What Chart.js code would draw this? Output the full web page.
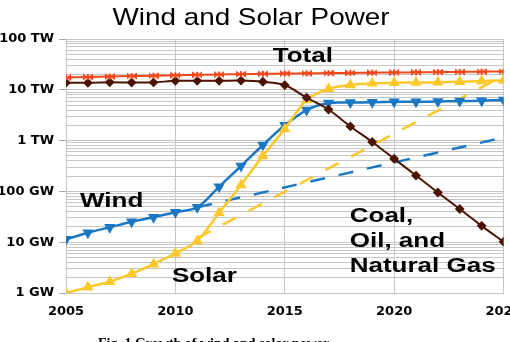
<!DOCTYPE html>
<html>
<head>
<meta charset="utf-8">
<script src="https://cdn.jsdelivr.net/npm/chart.js@4.4.1/dist/chart.umd.min.js"></script>
<style>
  html, body { margin: 0; padding: 0; background: #fff; overflow: hidden; }
  #wrap { position: relative; width: 510px; height: 342px; overflow: hidden; }
  #caption {
    position: absolute; left: 98px; top: 337px;
    font: bold 14px "Liberation Serif", "Times New Roman", serif;
    line-height: 14px; white-space: nowrap; color: #000;
  }
</style>
</head>
<body>
<div id="wrap">
  <canvas id="powerCanvas" width="510" height="342"></canvas>
  <div id="caption">Fig. 1 Growth of wind and solar power</div>
</div>
<script>
// values in GW
var years = [2005, 2006, 2007, 2008, 2009, 2010, 2011, 2012, 2013, 2014, 2015,
             2016, 2017, 2018, 2019, 2020, 2021, 2022, 2023, 2024, 2025];
var total = [17500, 17800, 18200, 18600, 18900, 19300, 19700, 20000, 20300, 20600, 20900,
             21100, 21300, 21500, 21700, 21900, 22100, 22300, 22500, 22700, 22900];
var fossil = [13800, 13700, 14100, 13900, 14000, 15000, 15000, 15000, 15200, 14400, 12400,
              7000, 4100, 1900, 940, 440, 205, 95, 45, 21, 10.2];
var wind = [11.4, 15.4, 19.6, 25.3, 31, 39, 48.6, 124, 316, 819, 2000,
            4000, 5500, 5600, 5700, 5800, 5800, 5900, 6000, 6100, 6300];
var solar = [1.0, 1.3, 1.67, 2.4, 3.7, 6.0, 10.6, 38, 134, 500, 1700,
             6300, 10500, 12400, 13400, 13800, 13900, 14100, 14400, 14900, 15200];

// dashed trend lines
var windTrendYears = [2011, 2025];
var windTrend = [48.6, 1150];
var solarTrendYears = [2011, 2025];
var solarTrend = [12, 19000];

var yTickValues = [1, 10, 100, 1000, 10000, 100000];
var yTickLabels = ["1 GW", "10 GW", "100 GW", "1 TW", "10 TW", "100 TW"];
var xTickStep = 5;

function points(xs, ys) {
  return xs.map(function (x, i) { return { x: x, y: ys[i] }; });
}

function bowtie(color) {
  var c = document.createElement("canvas");
  c.width = 10; c.height = 8;
  var g = c.getContext("2d");
  g.fillStyle = color;
  g.beginPath(); g.moveTo(0, 0.5); g.lineTo(5, 4); g.lineTo(0, 7.5); g.closePath(); g.fill();
  g.beginPath(); g.moveTo(10, 0.5); g.lineTo(5, 4); g.lineTo(10, 7.5); g.closePath(); g.fill();
  g.fillRect(4, 1, 2, 6);
  return c;
}

var gridColor = "#c6c6c6";
var tickFont = { family: "DejaVu Sans", size: 13, weight: "bold" };

// title and in-plot labels, stretched a bit wide like the original
var textPlugin = {
  id: "chartText",
  afterDatasetsDraw: function (chart) {
    var ctx = chart.ctx;
    var xs = chart.scales.x, ys = chart.scales.y;
    function put(text, px, py, font, sx, align) {
      ctx.save();
      ctx.translate(px, py);
      ctx.scale(sx, 1);
      ctx.font = font;
      ctx.fillStyle = "#000";
      ctx.textAlign = align || "left";
      ctx.textBaseline = "alphabetic";
      ctx.fillText(text, 0, 0);
      ctx.restore();
    }
    put("Wind and Solar Power", 251, 25, '24px "Liberation Sans", Arial', 1.16, "center");
    var bold = 'bold 20px "Liberation Sans", Arial';
    put("Total", xs.getPixelForValue(2014.45), ys.getPixelForValue(35000), bold, 1.3);
    put("Wind", xs.getPixelForValue(2005.64), ys.getPixelForValue(49), bold, 1.3);
    put("Solar", xs.getPixelForValue(2009.84), ys.getPixelForValue(1.65), bold, 1.3);
    var cx = xs.getPixelForValue(2017.97);
    var cy = ys.getPixelForValue(25);
    put("Coal,", cx, cy, bold, 1.3);
    put("Oil, and", cx, cy + 25, bold, 1.3);
    put("Natural Gas", cx, cy + 50, bold, 1.3);
  }
};

var ctx = document.getElementById("powerCanvas").getContext("2d");
var powerChart = new Chart(ctx, {
  type: "line",
  data: {
    datasets: [
      {
        label: "Total",
        data: points(years, total),
        borderColor: "#f0481c",
        backgroundColor: "#f0481c",
        borderWidth: 2,
        pointStyle: bowtie("#f0481c"),
        tension: 0.3,
      },
      {
        label: "Coal, Oil, and Natural Gas",
        data: points(years, fossil),
        borderColor: "#4d1300",
        backgroundColor: "#4d1300",
        borderWidth: 2,
        pointStyle: "rectRot",
        pointRadius: 3.5,
        tension: 0.3,
      },
      {
        label: "Solar",
        data: points(years, solar),
        borderColor: "#fcc82a",
        backgroundColor: "#fcc82a",
        borderWidth: 2.5,
        pointStyle: "triangle",
        pointRadius: 4,
        tension: 0.3,
      },
      {
        label: "Wind",
        data: points(years, wind),
        borderColor: "#1b77c4",
        backgroundColor: "#1b77c4",
        borderWidth: 2.5,
        pointStyle: "triangle",
        pointRotation: 180,
        pointRadius: 4,
        tension: 0.3,
      },
      {
        label: "Solar trend",
        data: points(solarTrendYears, solarTrend),
        borderColor: "#fcc82a",
        borderWidth: 2.5,
        borderDash: [15, 14],
        pointRadius: 0,
      },
      {
        label: "Wind trend",
        data: points(windTrendYears, windTrend),
        borderColor: "#1b77c4",
        borderWidth: 2.5,
        borderDash: [15, 14],
        pointRadius: 0,
      },
    ],
  },
  options: {
    responsive: false,
    animation: false,
    layout: { padding: { top: 39, right: 6, bottom: 0, left: 0 } },
    plugins: {
      legend: { display: false },
      tooltip: { enabled: false },
    },
    scales: {
      x: {
        type: "linear",
        min: years[0],
        max: years[years.length - 1],
        ticks: {
          stepSize: xTickStep,
          color: "#000",
          font: tickFont,
          padding: 11,
          maxRotation: 0,
          callback: function (v) { return String(v); },
        },
        grid: { color: gridColor, drawTicks: false },
        border: { color: gridColor },
        afterFit: function (scale) {
          scale.height = 49;
          scale.paddingLeft = 0;
          scale.paddingRight = 0;
        },
      },
      y: {
        type: "logarithmic",
        min: yTickValues[0],
        max: yTickValues[yTickValues.length - 1],
        afterBuildTicks: function (scale) {
          var t = [];
          for (var i = 0; i < yTickValues.length - 1; i++) {
            for (var m = 1; m < 10; m++) t.push({ value: yTickValues[i] * m });
          }
          t.push({ value: yTickValues[yTickValues.length - 1] });
          scale.ticks = t;
        },
        ticks: {
          autoSkip: false,
          color: "#000",
          font: tickFont,
          padding: 5,
          callback: function (v) {
            var i = yTickValues.indexOf(v);
            return i >= 0 ? yTickLabels[i] : "";
          },
        },
        grid: {
          color: gridColor,
          tickLength: 7,
          tickColor: function (c) {
            return c.tick && yTickValues.indexOf(c.tick.value) >= 0 ? "#a8a8a8" : "rgba(0,0,0,0)";
          },
        },
        border: { color: gridColor },
        afterFit: function (scale) {
          scale.width = 66;
        },
      },
    },
  },
  plugins: [textPlugin],
});
</script>
</body>
</html>
